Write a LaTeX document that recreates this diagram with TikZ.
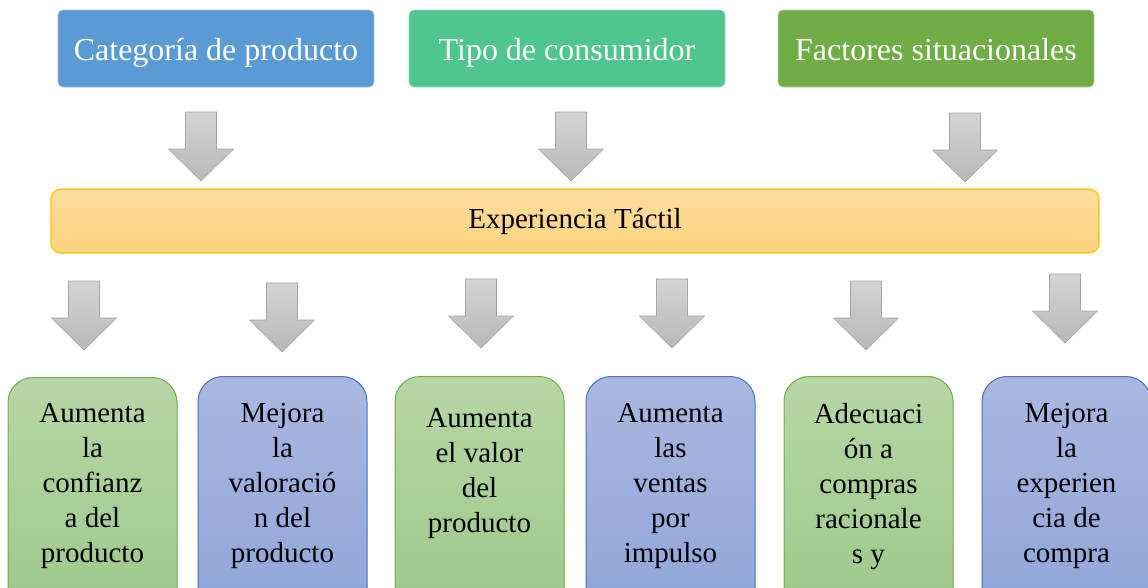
\documentclass[tikz,border=0pt]{standalone}
\usepackage{fontspec}
\setmainfont{Liberation Serif}
\usepackage{xcolor}
\usetikzlibrary{positioning}

\definecolor{catblue}{RGB}{91,155,213}
\definecolor{consgreen}{RGB}{79,198,141}
\definecolor{sitgreen}{RGB}{112,173,71}
\definecolor{barbord}{RGB}{255,192,0}
\definecolor{bartop}{RGB}{255,221,158}
\definecolor{barbot}{RGB}{255,212,127}
\definecolor{leaftop}{RGB}{182,215,166}
\definecolor{leafbot}{RGB}{156,200,136}
\definecolor{leafbord}{RGB}{112,173,71}
\definecolor{skytop}{RGB}{170,184,225}
\definecolor{skybot}{RGB}{142,164,216}
\definecolor{skybord}{RGB}{68,114,196}
\definecolor{arrtop}{RGB}{212,212,212}
\definecolor{arrbot}{RGB}{184,184,184}
\definecolor{arrbord}{RGB}{166,166,166}

\tikzset{
  factor/.style={rectangle, rounded corners=5pt, minimum width=316pt, minimum height=77pt,
    text height=28pt, text depth=5pt,
    text=white, font=\fontsize{32}{38}\selectfont, fill=#1, draw=#1!60!white, line width=0.6pt},
  bar/.style={rectangle, rounded corners=10pt, minimum width=1048pt, minimum height=64pt,
    draw=barbord, line width=1.2pt, top color=bartop, bottom color=barbot,
    font=\fontsize{29}{35}\selectfont},
  effect/.style={rectangle, rounded corners=25pt, minimum width=169pt, minimum height=250pt,
    anchor=north, line width=1pt},
  greenbox/.style={effect, draw=leafbord, top color=leaftop, bottom color=leafbot},
  bluebox/.style={effect, draw=skybord, top color=skytop, bottom color=skybot},
  boxtext/.style={align=center, inner sep=0pt, font=\fontsize{29}{35}\selectfont},
  grayarrow/.style={draw=arrbord, line width=0.6pt, top color=arrtop, bottom color=arrbot}
}

\begin{document}
\begin{tikzpicture}[x=1pt, y=-1pt]
\useasboundingbox (0,0) rectangle (1148,587);
\clip (0,0) rectangle (1148,587);

\node[factor=catblue] (cat) at (216,48.5) {Categoría de producto};
\node[factor=consgreen] (cons) at (567,48.5) {Tipo de consumidor};
\node[factor=sitgreen] (sit) at (936,48.5) {Factores situacionales};

\draw[grayarrow] (185.5,112) -- ++(31,0) -- ++(0,37) -- ++(17,0) -- ++(-32.5,32) -- ++(-32.5,-32) -- ++(17,0) -- cycle;
\draw[grayarrow] (555.5,112) -- ++(31,0) -- ++(0,37) -- ++(17,0) -- ++(-32.5,32) -- ++(-32.5,-32) -- ++(17,0) -- cycle;
\draw[grayarrow] (949.5,113) -- ++(31,0) -- ++(0,37) -- ++(17,0) -- ++(-32.5,32) -- ++(-32.5,-32) -- ++(17,0) -- cycle;

\node[bar] (tact) at (575,221) {Experiencia Táctil};

\draw[grayarrow] (68.5,281) -- ++(31,0) -- ++(0,37) -- ++(17,0) -- ++(-32.5,32) -- ++(-32.5,-32) -- ++(17,0) -- cycle;
\draw[grayarrow] (266.5,283) -- ++(31,0) -- ++(0,37) -- ++(17,0) -- ++(-32.5,32) -- ++(-32.5,-32) -- ++(17,0) -- cycle;
\draw[grayarrow] (465.5,279) -- ++(31,0) -- ++(0,37) -- ++(17,0) -- ++(-32.5,32) -- ++(-32.5,-32) -- ++(17,0) -- cycle;
\draw[grayarrow] (656.5,279) -- ++(31,0) -- ++(0,37) -- ++(17,0) -- ++(-32.5,32) -- ++(-32.5,-32) -- ++(17,0) -- cycle;
\draw[grayarrow] (850.5,281) -- ++(31,0) -- ++(0,37) -- ++(17,0) -- ++(-32.5,32) -- ++(-32.5,-32) -- ++(17,0) -- cycle;
\draw[grayarrow] (1049.5,274) -- ++(31,0) -- ++(0,37) -- ++(17,0) -- ++(-32.5,32) -- ++(-32.5,-32) -- ++(17,0) -- cycle;

\node[greenbox] (conf) at (92.5,377) {};
\node[bluebox] (valo) at (282.5,376) {};
\node[greenbox] (valor) at (479.5,376) {};
\node[bluebox] (vent) at (670.5,376) {};
\node[greenbox] (raci) at (868.5,376) {};
\node[bluebox] (expe) at (1066.5,376) {};

\node[boxtext, below=26pt of conf.north] (conft) {Aumenta\\la\\confianz\\a del\\producto};
\node[boxtext, below=27pt of valo.north] (valot) {Mejora\\la\\valoració\\n del\\producto};
\node[boxtext, below=32pt of valor.north] (valort) {Aumenta\\el valor\\del\\producto};
\node[boxtext, below=27pt of vent.north] (ventt) {Aumenta\\las\\ventas\\por\\impulso};
\node[boxtext, below=27pt of raci.north] (racit) {Adecuaci\\ón a\\compras\\racionale\\s y};
\node[boxtext, below=27pt of expe.north] (expet) {Mejora\\la\\experien\\cia de\\compra};
\end{tikzpicture}
\end{document}
